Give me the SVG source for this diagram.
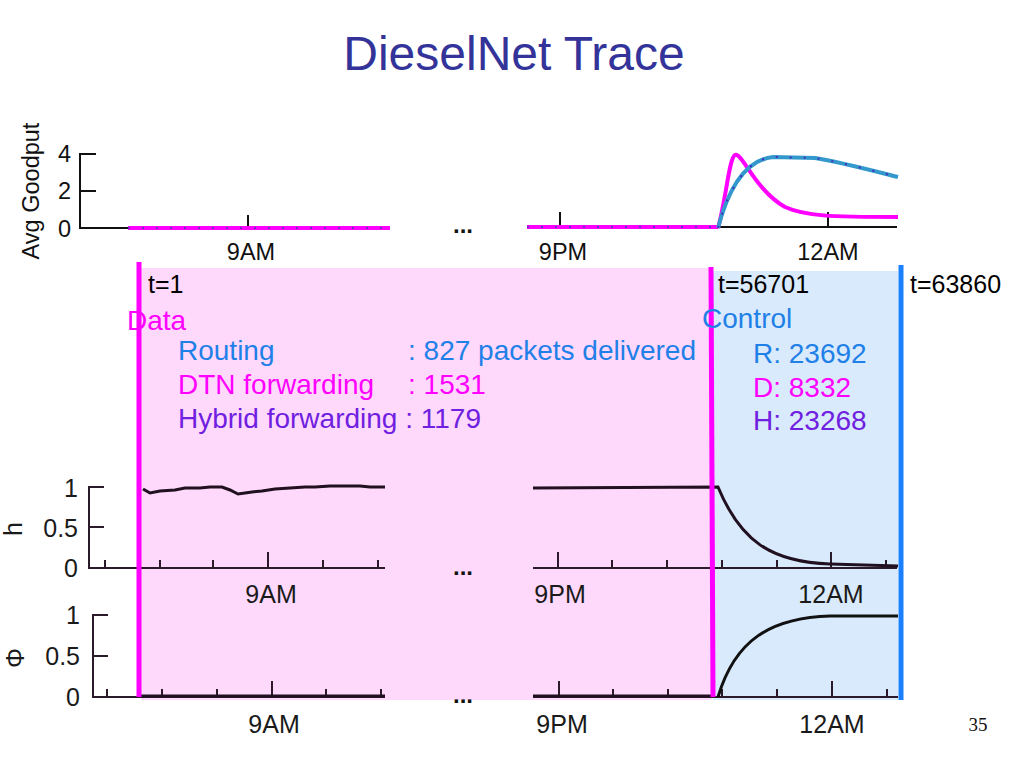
<svg xmlns="http://www.w3.org/2000/svg" width="1024" height="768" viewBox="0 0 1024 768">
<style>
.t{font-family:"Liberation Sans",Arial,sans-serif}
.ax{stroke:#111;stroke-width:2;fill:none}
.ax2{stroke:#2a1a2a;stroke-width:2;fill:none}
.lbl{font-family:"Liberation Sans",Arial,sans-serif;font-size:23.5px;fill:#111}
.lb2{font-family:"Liberation Sans",Arial,sans-serif;font-size:25px;fill:#1a1a1a}
.body{font-family:"Liberation Sans",Arial,sans-serif;font-size:28px}
.tl{font-family:"Liberation Sans",Arial,sans-serif;font-size:25px;fill:#000}
.dots{font-family:"Liberation Sans",Arial,sans-serif;font-size:24px;font-weight:bold;fill:#111}
.blue{fill:#1f80e8}
.mag{fill:#ff00ff}
.pur{fill:#7020e0}
</style>
<rect width="1024" height="768" fill="#fff"/>
<g id="title"><text x="514" y="70" text-anchor="middle" class="t" font-size="48" fill="#333399">DieselNet Trace</text></g>

<g id="regions">
<rect x="141" y="268" width="571" height="432" fill="#ffd9fc"/>
<rect x="713" y="271" width="185" height="429" fill="#d9eafc"/>
</g>

<g id="top-chart">
<text class="lbl" transform="translate(39,191) rotate(-90)" text-anchor="middle">Avg Goodput</text>
<text class="lbl" x="71" y="162" text-anchor="end">4</text>
<text class="lbl" x="71" y="199" text-anchor="end">2</text>
<text class="lbl" x="71" y="237" text-anchor="end">0</text>
<path class="ax" d="M96,154 H80 V228 H128 M80,191 H96 M248,215 V228"/>
<line x1="128" y1="228" x2="390" y2="228" stroke="#ff00ff" stroke-width="4"/>
<line x1="128" y1="228" x2="390" y2="228" stroke="#7030c0" stroke-width="2" stroke-dasharray="2 12"/>
<text class="lbl" x="251" y="260" text-anchor="middle">9AM</text>
<text class="dots" x="463" y="233" text-anchor="middle">...</text>
<path class="ax" d="M718,227 H897 M560,212 V227 M828,212 V227"/>
<line x1="527" y1="227" x2="718" y2="227" stroke="#ff00ff" stroke-width="4"/>
<line x1="527" y1="227" x2="718" y2="227" stroke="#7030c0" stroke-width="2" stroke-dasharray="2 12"/>
<path d="M718,228 C726,200 729,158 735,155 C742,152 755,190 785,207 C805,216 830,217 898,217" fill="none" stroke="#ff00ff" stroke-width="4"/>
<path d="M718,228 C728,190 745,160 773,157 L815,158 C840,162 870,170 898,177" fill="none" stroke="#3399cc" stroke-width="4"/>
<path d="M718,228 C728,190 745,160 773,157 L815,158 C840,162 870,170 898,177" fill="none" stroke="#4030c0" stroke-width="2" stroke-dasharray="2 12"/>
<text class="lbl" x="563" y="260" text-anchor="middle">9PM</text>
<text class="lbl" x="828" y="260" text-anchor="middle">12AM</text>
</g>

<g id="h-chart">
<text class="lb2" transform="translate(22,529) rotate(-90)" text-anchor="middle" font-size="22">h</text>
<text class="lb2" x="78" y="497" text-anchor="end">1</text>
<text class="lb2" x="78" y="537" text-anchor="end">0.5</text>
<text class="lb2" x="78" y="577" text-anchor="end">0</text>
<path class="ax2" d="M104,487 H89 V568 H385 M89,527 H104 M105,560 V568 M160,560 V568 M213,560 V568 M268,552 V568 M323,560 V568 M378,560 V568"/>
<polyline points="143,489 150,493 160,491 175,490 185,488 200,488 210,487 222,487 230,490 238,494 245,493 252,492 262,491 275,489 290,488 305,487 315,487 330,486 345,486 360,486 370,487 385,487" fill="none" stroke="#201020" stroke-width="3"/>
<text class="lb2" x="271" y="603" text-anchor="middle">9AM</text>
<text class="dots" x="463" y="575" text-anchor="middle">...</text>
<path class="ax2" d="M533,568 H897 M558,552 V568 M612,560 V568 M667,560 V568 M722,560 V568 M777,560 V568 M831,552 V568 M886,560 V568"/>
<path d="M533,488 L718,487 C740,540 770,562 830,564 L898,566" fill="none" stroke="#201020" stroke-width="3"/>
<text class="lb2" x="560" y="603" text-anchor="middle">9PM</text>
<text class="lb2" x="831" y="603" text-anchor="middle">12AM</text>
</g>

<g id="phi-chart">
<text class="lb2" transform="translate(24,658) rotate(-90)" text-anchor="middle" font-size="23">Φ</text>
<text class="lb2" x="80" y="624" text-anchor="end">1</text>
<text class="lb2" x="80" y="665" text-anchor="end">0.5</text>
<text class="lb2" x="80" y="706" text-anchor="end">0</text>
<path class="ax2" d="M108,615 H93 V697 H385 M93,656 H108 M107,689 V697 M162,689 V697 M217,689 V697 M272,681 V697 M326,689 V697 M381,689 V697"/>
<line x1="141" y1="696" x2="385" y2="696" stroke="#201020" stroke-width="3"/>
<text class="lb2" x="274" y="733" text-anchor="middle">9AM</text>
<text class="dots" x="463" y="703" text-anchor="middle">...</text>
<path class="ax2" d="M533,697 H898 M559,681 V697 M613,689 V697 M668,689 V697 M722,689 V697 M777,689 V697 M832,681 V697 M887,689 V697"/>
<line x1="533" y1="696" x2="712" y2="696" stroke="#201020" stroke-width="3"/>
<path d="M718,697 C735,640 770,618 830,616 L898,616" fill="none" stroke="#111" stroke-width="3"/>
<text class="lb2" x="562" y="733" text-anchor="middle">9PM</text>
<text class="lb2" x="832" y="733" text-anchor="middle">12AM</text>
</g>

<g id="markers">
<line x1="139" y1="262" x2="139" y2="697" stroke="#ff00ff" stroke-width="5"/>
<line x1="711" y1="267" x2="713" y2="697" stroke="#ff00ff" stroke-width="5"/>
<line x1="901" y1="265" x2="901" y2="700" stroke="#1a80ff" stroke-width="5"/>
</g>

<g id="labels">
<text class="tl" x="148" y="293">t=1</text>
<text class="tl" x="718" y="293">t=56701</text>
<text class="tl" x="910" y="293">t=63860</text>
<text class="body mag" x="127" y="330">Data</text>
<text class="body blue" x="702" y="328">Control</text>
<text class="body blue" x="178" y="360">Routing</text>
<text class="body blue" x="408" y="360">: 827 packets delivered</text>
<text class="body mag" x="178" y="394">DTN forwarding</text>
<text class="body mag" x="408" y="394">: 1531</text>
<text class="body pur" x="178" y="428">Hybrid forwarding : 1179</text>
<text class="body blue" x="753" y="363">R: 23692</text>
<text class="body mag" x="753" y="397">D: 8332</text>
<text class="body pur" x="753" y="430">H: 23268</text>
</g>

<g id="page"><text x="978" y="731" text-anchor="middle" font-family="'Liberation Serif',serif" font-size="19" fill="#111">35</text></g>
</svg>
